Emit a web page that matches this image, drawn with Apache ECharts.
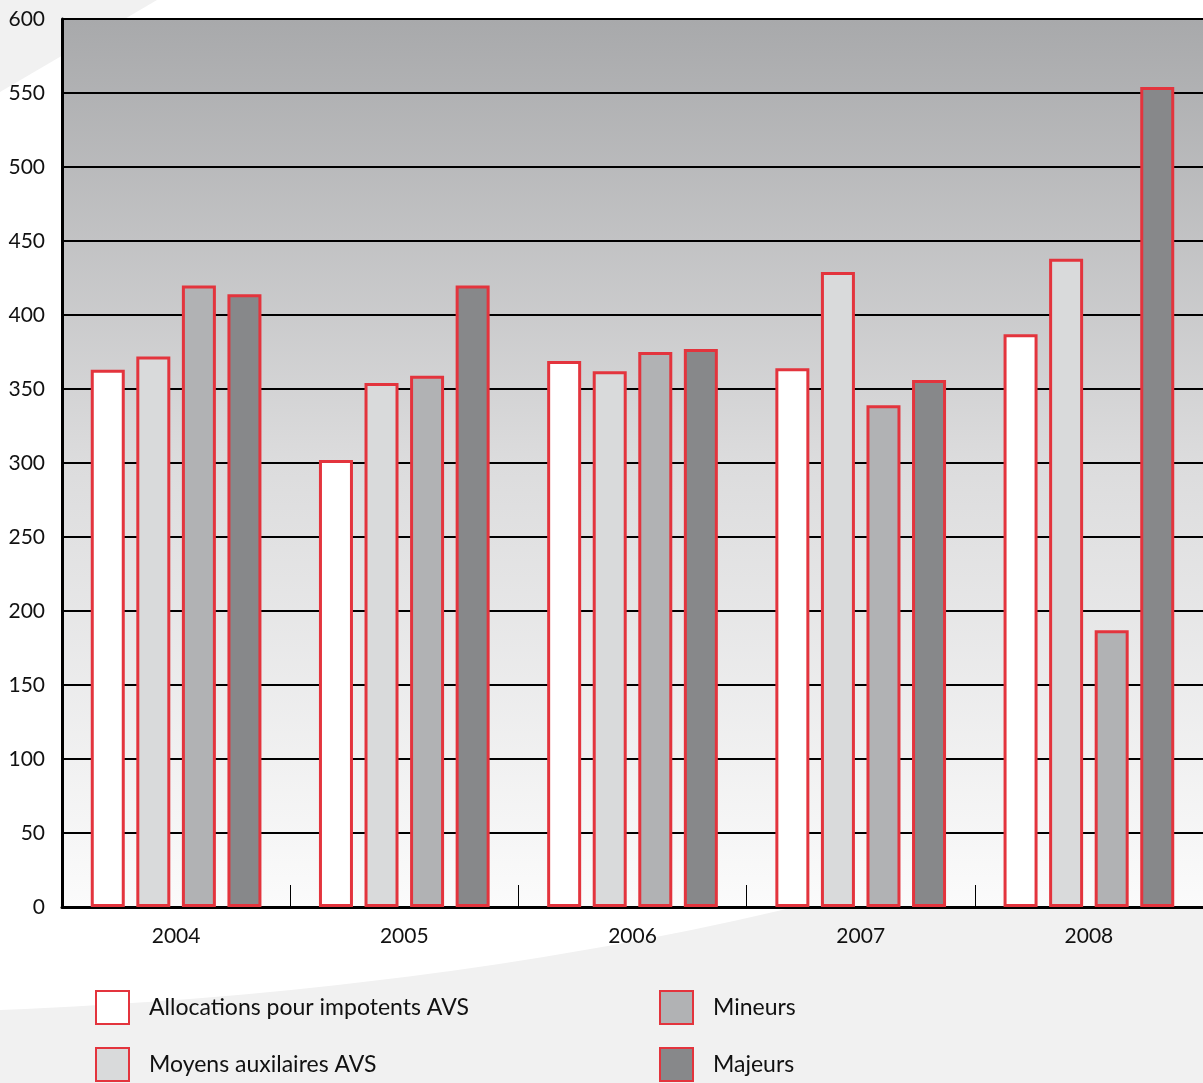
<!DOCTYPE html>
<html>
<head>
<meta charset="utf-8">
<script src="https://cdn.jsdelivr.net/npm/echarts@6/dist/echarts.min.js"></script>
<style>
  html, body { margin: 0; padding: 0; background: #ffffff; }
  #chart { width: 1203px; height: 1083px; }
</style>
</head>
<body>
<div id="chart"></div>
<script>
// Years on the category axis
const years = ['2004', '2005', '2006', '2007', '2008'];

// Series names shown in the legend
const seriesNames = [
  'Allocations pour impotents AVS',
  'Moyens auxilaires AVS',
  'Mineurs',
  'Majeurs'
];

// Values per year for each series
const allocationsAVS = [363, 302, 369, 364, 387];
const moyensAuxAVS   = [372, 354, 362, 429, 438];
const mineurs        = [420, 359, 375, 339, 187];
const majeurs        = [414, 420, 377, 356, 554];

const seriesValues = [allocationsAVS, moyensAuxAVS, mineurs, majeurs];
const fills = ['#ffffff', '#d9dadb', '#b1b2b4', '#87888a'];
const edgeRed = '#e3343d';
const fontFamily = 'Lato, "Open Sans", sans-serif';

// Decorative swoosh at the bottom of the page: a quadratic curve sampled into a polygon
function swooshPoints() {
  const p0 = [0, 1010], c = [500, 990], p1 = [900, 880];
  const pts = [];
  for (let i = 0; i <= 40; i++) {
    const t = i / 40, u = 1 - t;
    pts.push([u * u * p0[0] + 2 * u * t * c[0] + t * t * p1[0],
              u * u * p0[1] + 2 * u * t * c[1] + t * t * p1[1]]);
  }
  pts.push([1203, 880], [1203, 1083], [0, 1083]);
  return pts;
}

const chart = echarts.init(document.getElementById('chart'), null, { renderer: 'canvas' });

const series = seriesValues.map((vals, i) => ({
  name: seriesNames[i],
  type: 'bar',
  data: vals,
  barWidth: 34,
  barGap: '34%',
  itemStyle: { color: fills[i], borderColor: edgeRed, borderWidth: 3 },
  emphasis: { disabled: true }
}));

const legendCommon = {
  orient: 'vertical',
  icon: 'rect',
  padding: 0,
  itemWidth: 33,
  itemHeight: 33,
  itemGap: 22,
  selectedMode: false,
  textStyle: { fontFamily, fontSize: 23, color: '#111', padding: [0, 0, 0, 15] }
};

chart.setOption({
  animation: false,
  backgroundColor: '#ffffff',
  graphic: [
    {
      type: 'polygon', z: -10,
      shape: { points: [[0, 0], [157, 0], [0, 92]] },
      style: { fill: '#f1f1f1' }
    },
    {
      type: 'polygon', z: -10,
      shape: { points: swooshPoints() },
      style: { fill: '#f1f1f1' }
    }
  ],
  grid: {
    left: 62, right: 0, top: 19, bottom: 176,
    show: true,
    borderWidth: 0,
    backgroundColor: {
      type: 'linear', x: 0, y: 0, x2: 0, y2: 1,
      colorStops: [
        { offset: 0, color: '#a8a9ab' },
        { offset: 0.5, color: '#dcdcdd' },
        { offset: 1, color: '#fbfbfb' }
      ]
    }
  },
  legend: [
    Object.assign({}, legendCommon, { left: 95, top: 990, data: seriesNames.slice(0, 2) }),
    Object.assign({}, legendCommon, { left: 659, top: 990, data: seriesNames.slice(2, 4) })
  ],
  xAxis: {
    type: 'category',
    data: years,
    axisLine: { lineStyle: { color: '#000', width: 3 } },
    axisTick: { show: true, inside: true, length: 22, interval: 0, lineStyle: { color: '#000', width: 1 } },
    axisLabel: { fontFamily, fontSize: 21, color: '#111', margin: 19 }
  },
  yAxis: {
    type: 'value',
    min: 0, max: 600, interval: 50,
    axisLine: { show: true, lineStyle: { color: '#000', width: 3 } },
    axisTick: { show: false },
    splitLine: { show: true, lineStyle: { color: '#000', width: 2 } },
    axisLabel: { fontFamily, fontSize: 21, color: '#111', margin: 17 }
  },
  series
});
</script>
</body>
</html>
